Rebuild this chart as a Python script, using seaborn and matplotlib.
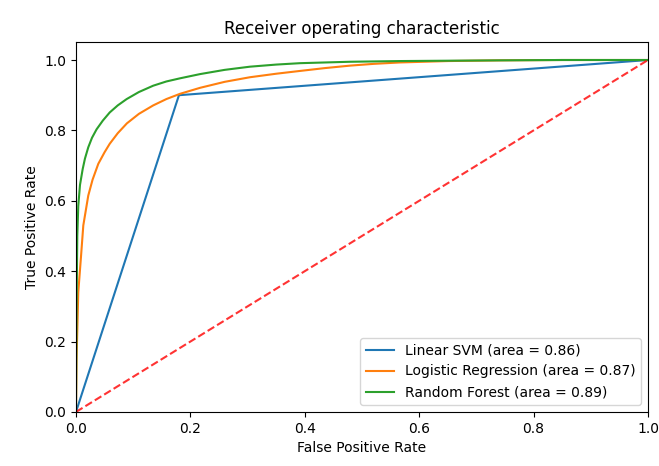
import matplotlib
matplotlib.use("Agg")
import matplotlib.pyplot as plt
import seaborn as sns
import pandas as pd

svm_fpr = [0.0, 0.18, 1.0]
svm_tpr = [0.0, 0.90, 1.0]

lr_fpr = [0.0, 0.001, 0.004, 0.0087, 0.0128, 0.0215, 0.029, 0.039, 0.05, 0.059, 0.073, 0.089,
          0.11, 0.135, 0.158, 0.182, 0.217, 0.26, 0.304, 0.35, 0.392, 0.435, 0.479, 0.52,
          0.566, 0.65, 0.741, 0.85, 1.0]
lr_tpr = [0.0, 0.15, 0.34, 0.44, 0.53, 0.615, 0.66, 0.705, 0.738, 0.762, 0.792, 0.82,
          0.847, 0.871, 0.889, 0.904, 0.921, 0.938, 0.951, 0.961, 0.969, 0.977, 0.984, 0.989,
          0.993, 0.997, 0.999, 1.0, 1.0]

rf_fpr = [0.0, 0.0005, 0.001, 0.0023, 0.004, 0.007, 0.0117, 0.0157, 0.0215, 0.028, 0.036,
          0.047, 0.059, 0.073, 0.0886, 0.11, 0.135, 0.158, 0.182, 0.217, 0.26, 0.304, 0.35,
          0.392, 0.479, 0.566, 0.65, 0.741, 0.85, 1.0]
rf_tpr = [0.0, 0.15, 0.3, 0.5, 0.585, 0.645, 0.69, 0.72, 0.752, 0.779, 0.803,
          0.828, 0.851, 0.871, 0.889, 0.909, 0.927, 0.939, 0.948, 0.960, 0.972, 0.981, 0.987,
          0.991, 0.995, 0.997, 0.998, 0.999, 1.0, 1.0]

labels = ["Linear SVM (area = 0.86)",
          "Logistic Regression (area = 0.87)",
          "Random Forest (area = 0.89)"]

rows = []
for lab, fx, ty in zip(labels, [svm_fpr, lr_fpr, rf_fpr], [svm_tpr, lr_tpr, rf_tpr]):
    for a, b in zip(fx, ty):
        rows.append({"fpr": a, "tpr": b, "model": lab})
df = pd.DataFrame(rows)

fig = plt.figure(figsize=(6.59, 4.66), dpi=100)
ax = fig.add_axes([0.1153, 0.116, 0.868, 0.793])
sns.lineplot(data=df, x="fpr", y="tpr", hue="model",
             palette=["#1f77b4", "#ff7f0e", "#2ca02c"],
             sort=False, estimator=None, ax=ax, linewidth=1.5)
ax.plot([0, 1], [0, 1], "r--", linewidth=1.5, alpha=0.8)
ax.set_xlim(0.0, 1.0)
ax.set_ylim(0.0, 1.05)
ax.set_xlabel("False Positive Rate")
ax.set_ylabel("True Positive Rate")
ax.set_title("Receiver operating characteristic")
ax.legend(loc="lower right", title=None)
fig.savefig("out.png", dpi=100)
